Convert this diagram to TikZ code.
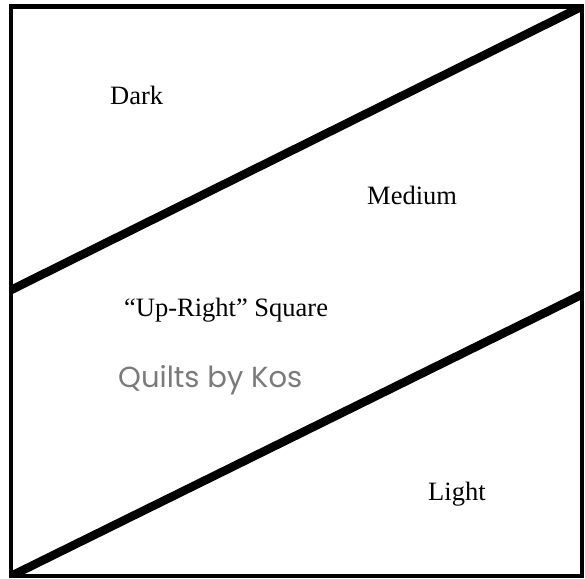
\documentclass[tikz,border=0pt]{standalone}
\usepackage{fontspec}
\usepackage{graphicx}
\setmainfont{Liberation Serif}
\newfontfamily\handfont{Poppins}
\definecolor{kosgray}{HTML}{7A7A7A}
\begin{document}
\begin{tikzpicture}[x=1pt,y=-1pt,
  frame/.style={draw=black,line width=4.5pt},
  diag/.style={draw=black,line width=8.5pt},
  lbl/.style={anchor=base west,inner sep=0pt,font=\fontsize{26.5}{31}\selectfont},
  sig/.style={anchor=base west,inner sep=0pt,text=kosgray}]
\useasboundingbox (0,0) rectangle (585,578);
\coordinate (tl) at (11,6.5);
\coordinate (tr) at (582,6.5);
\coordinate (bl) at (11,576);
\coordinate (br) at (582,576);
\coordinate (ul) at (11,290);
\coordinate (lr) at (582,294.5);
\begin{scope}
\clip (tl) rectangle (br);
\draw[diag] (ul) -- (tr);
\draw[diag] (bl) -- (lr);
\end{scope}
\draw[frame] (tl) rectangle (br);
\node[lbl] (dark) at (110,104) {Dark};
\node[lbl] (medium) at (367,204) {Medium};
\node[lbl] (upright) at (124,316) {“Up-Right” Square};
\node[lbl] (light) at (428,500) {Light};
\node[sig] (kos) at (118,387) {\resizebox{184pt}{!}{\handfont Quilts by Kos}};
\end{tikzpicture}
\end{document}
